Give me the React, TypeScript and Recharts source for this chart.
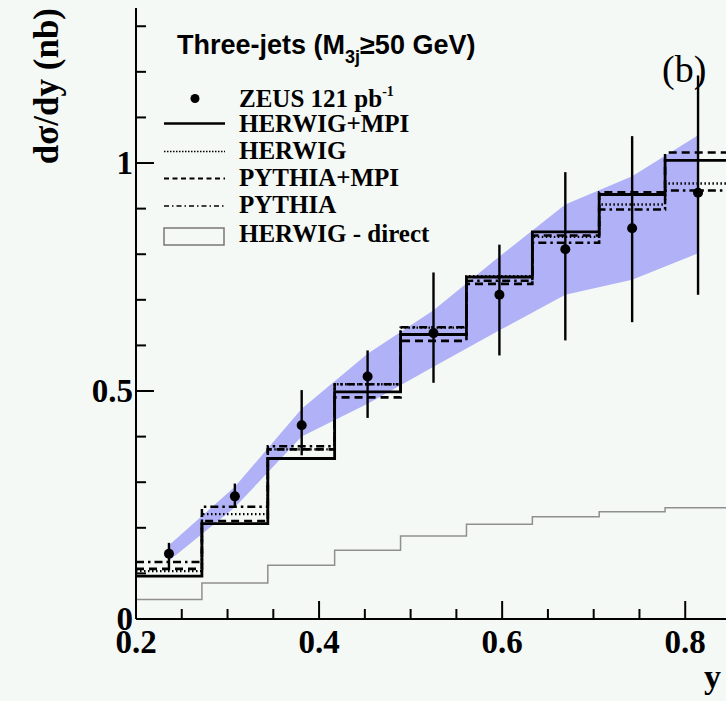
import React from 'react'
import { ComposedChart, Line, Area, Scatter, ErrorBar, XAxis, YAxis } from 'recharts'

// bins in y (inelasticity), 0.2 < y < 0.85
const binEdges = [0.2, 0.272, 0.344, 0.417, 0.489, 0.561, 0.633, 0.706, 0.778, 0.85]
const binCentres = [0.236, 0.308, 0.381, 0.453, 0.525, 0.597, 0.669, 0.742, 0.814]

const zeusValues = [0.143, 0.269, 0.425, 0.532, 0.627, 0.711, 0.811, 0.857, 0.935]
const zeusErrDown = [0.036, 0.025, 0.066, 0.091, 0.109, 0.133, 0.2, 0.206, 0.224]
const zeusErrUp = [0.024, 0.028, 0.077, 0.057, 0.133, 0.11, 0.169, 0.202, 0.257]

// energy-scale uncertainty band
const bandLow = [0.128, 0.245, 0.4, 0.472, 0.553, 0.633, 0.711, 0.744, 0.802]
const bandHigh = [0.162, 0.29, 0.461, 0.582, 0.677, 0.795, 0.909, 0.971, 1.061]

const herwigMpi = [0.094, 0.209, 0.352, 0.498, 0.624, 0.75, 0.849, 0.931, 1.006]
const herwig = [0.105, 0.23, 0.372, 0.515, 0.639, 0.752, 0.838, 0.909, 0.955]
const pythiaMpi = [0.11, 0.215, 0.372, 0.486, 0.61, 0.735, 0.841, 0.936, 1.023]
const pythia = [0.125, 0.246, 0.379, 0.515, 0.64, 0.742, 0.825, 0.898, 0.94]
const herwigDirect = [0.0425, 0.079, 0.118, 0.151, 0.182, 0.208, 0.224, 0.235, 0.244]

const xTicks = [0.2, 0.25, 0.3, 0.35, 0.4, 0.45, 0.5, 0.55, 0.6, 0.65, 0.7, 0.75, 0.8, 0.85]
const xMajor = [0.2, 0.4, 0.6, 0.8]
const xMajorText = ['0.2', '0.4', '0.6', '0.8']
const yTicks = [0, 0.1, 0.2, 0.3, 0.4, 0.5, 0.6, 0.7, 0.8, 0.9, 1, 1.1, 1.2, 1.3]
const yMajor = [0, 0.5, 1]
const yMajorText = ['0', '0.5', '1']

const SERIF = '"Liberation Serif", "Times New Roman", serif'
const SANS = '"Liberation Sans", Arial, sans-serif'
const BG = '#f5f9f6'

const hist = (vals: number[]) => binEdges.map((x, i) => ({ x, y: vals[Math.min(i, vals.length - 1)] }))
const zeusRows = binCentres.map((x, i) => ({ x, y: zeusValues[i], err: [zeusErrDown[i], zeusErrUp[i]] }))
const bandRows = binCentres.map((x, i) => ({ x, band: [bandLow[i], bandHigh[i]] }))

const majorIdx = (list: number[], v: number) => list.findIndex((m) => Math.abs(m - v) < 1e-6)

function BottomTick({ x, y, payload }: any) {
  const k = majorIdx(xMajor, payload.value)
  return (
    <g>
      <line x1={x} x2={x} y1={y} y2={y - (k >= 0 ? 18 : 10)} stroke="#000" strokeWidth={2} />
      {k >= 0 && (
        <text x={x} y={y + 34} textAnchor="middle" fontFamily={SERIF} fontWeight="bold" fontSize={33} fill="#000">
          {xMajorText[k]}
        </text>
      )}
    </g>
  )
}

function TopTick({ x, y, payload }: any) {
  const k = majorIdx(xMajor, payload.value)
  return <line x1={x} x2={x} y1={y} y2={y + (k >= 0 ? 18 : 10)} stroke="#000" strokeWidth={2} />
}

function LeftTick({ x, y, payload }: any) {
  const k = majorIdx(yMajor, payload.value)
  return (
    <g>
      <line x1={x} x2={x + (k >= 0 ? 18 : 10)} y1={y} y2={y} stroke="#000" strokeWidth={2} />
      {k >= 0 && (
        <text x={x - 3} y={y + 11} textAnchor="end" fontFamily={SERIF} fontWeight="bold" fontSize={33} fill="#000">
          {yMajorText[k]}
        </text>
      )}
    </g>
  )
}

function RightTick({ x, y, payload }: any) {
  const k = majorIdx(yMajor, payload.value)
  return <line x1={x} x2={x - (k >= 0 ? 18 : 10)} y1={y} y2={y} stroke="#000" strokeWidth={2} />
}

export default function App() {
  const txt = { fontFamily: SERIF, fontWeight: 'bold' as const, fontSize: 25, fill: '#000' }
  return (
    <div style={{ position: 'fixed', left: 0, top: 0, width: 726, height: 701, overflow: 'hidden', background: BG }}>
      <ComposedChart width={760} height={701} margin={{ top: 8, right: 29, bottom: 0, left: 0 }}>
        <XAxis xAxisId="b" dataKey="x" type="number" domain={[0.2, 0.85]} ticks={xTicks} interval={0} allowDataOverflow
          height={82} tickSize={0} tickMargin={0} tickLine={false} axisLine={{ stroke: '#000', strokeWidth: 2 }} tick={BottomTick} />
        <XAxis xAxisId="t" orientation="top" dataKey="x" type="number" domain={[0.2, 0.85]} ticks={xTicks} interval={0} allowDataOverflow
          height={0} tickSize={0} tickMargin={0} tickLine={false} axisLine={{ stroke: '#000', strokeWidth: 2 }} tick={TopTick} />
        <YAxis yAxisId="l" dataKey="y" type="number" domain={[0, 1.34]} ticks={yTicks} interval={0} allowDataOverflow
          width={136} tickSize={0} tickMargin={0} tickLine={false} axisLine={{ stroke: '#000', strokeWidth: 2 }} tick={LeftTick} />
        <YAxis yAxisId="r" orientation="right" dataKey="y" type="number" domain={[0, 1.34]} ticks={yTicks} interval={0} allowDataOverflow
          width={0} tickSize={0} tickMargin={0} tickLine={false} axisLine={{ stroke: '#000', strokeWidth: 2 }} tick={RightTick} />

        <Area xAxisId="b" yAxisId="l" data={bandRows} dataKey="band" type="linear" stroke="none" fill="#b0b1f6" fillOpacity={1} isAnimationActive={false} />

        <Line xAxisId="b" yAxisId="l" data={hist(herwigDirect)} dataKey="y" type="stepAfter" stroke="#8f8f8f" strokeWidth={1.5} dot={false} isAnimationActive={false} />
        <Line xAxisId="b" yAxisId="l" data={hist(pythia)} dataKey="y" type="stepAfter" stroke="#000" strokeWidth={2.5} strokeDasharray="8 4 2.5 4" dot={false} isAnimationActive={false} />
        <Line xAxisId="b" yAxisId="l" data={hist(pythiaMpi)} dataKey="y" type="stepAfter" stroke="#000" strokeWidth={2.6} strokeDasharray="8 5" dot={false} isAnimationActive={false} />
        <Line xAxisId="b" yAxisId="l" data={hist(herwig)} dataKey="y" type="stepAfter" stroke="#000" strokeWidth={2.4} strokeDasharray="1.5 2.5" dot={false} isAnimationActive={false} />
        <Line xAxisId="b" yAxisId="l" data={hist(herwigMpi)} dataKey="y" type="stepAfter" stroke="#000" strokeWidth={2.8} dot={false} isAnimationActive={false} />

        <Scatter xAxisId="b" yAxisId="l" data={zeusRows} dataKey="y" isAnimationActive={false}
          shape={(p: any) => <circle cx={p.cx} cy={p.cy} r={5} fill="#000" />}>
          <ErrorBar dataKey="err" direction="y" width={0} stroke="#000" strokeWidth={2.4} />
        </Scatter>
      </ComposedChart>

      <svg width={726} height={701} style={{ position: 'absolute', left: 0, top: 0, pointerEvents: 'none' }}>
        <text x={58} y={8} transform="rotate(-90 58 8)" textAnchor="end" fontFamily={SERIF} fontWeight="bold" fontSize={35} fill="#000">
          dσ/dy (nb)
        </text>
        <text x={721} y={688} textAnchor="end" fontFamily={SERIF} fontWeight="bold" fontSize={34} fill="#000">y</text>
        <text x={662} y={82} fontFamily={SERIF} fontSize={38} fill="#000">(b)</text>

        <text x={177} y={54} fontFamily={SANS} fontWeight="bold" fontSize={27} fill="#000">
          Three-jets (M<tspan fontSize={18} dy={9}>3j</tspan><tspan dy={-9}>≥50 GeV)</tspan>
        </text>

        <circle cx={195} cy={98.5} r={4.5} fill="#000" />
        <text x={239} y={107} {...txt}>ZEUS 121 pb<tspan fontSize={14} dy={-11}>-1</tspan></text>
        <line x1={164} x2={225} y1={123.5} y2={123.5} stroke="#000" strokeWidth={2.5} />
        <text x={239} y={132} {...txt}>HERWIG+MPI</text>
        <line x1={164} x2={225} y1={151.5} y2={151.5} stroke="#000" strokeWidth={1.5} strokeDasharray="1.5 1.5" />
        <text x={239} y={159} {...txt}>HERWIG</text>
        <line x1={164} x2={225} y1={178.5} y2={178.5} stroke="#000" strokeWidth={2} strokeDasharray="5 3.5" />
        <text x={239} y={186} {...txt}>PYTHIA+MPI</text>
        <line x1={164} x2={225} y1={206} y2={206} stroke="#000" strokeWidth={1.6} strokeDasharray="5 3 1.5 3" />
        <text x={239} y={213} {...txt}>PYTHIA</text>
        <rect x={164} y={228} width={60} height={17} fill="none" stroke="#777" strokeWidth={1.5} />
        <text x={239} y={242} {...txt}>HERWIG - direct</text>
      </svg>
    </div>
  )
}
